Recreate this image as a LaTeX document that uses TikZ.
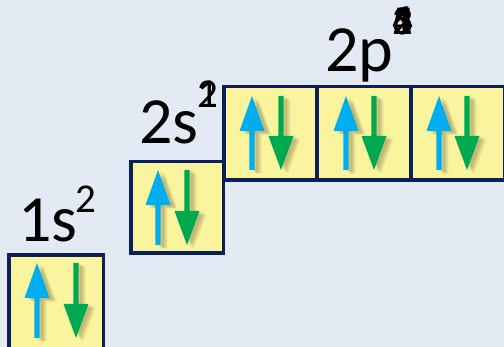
\documentclass[tikz,border=0pt]{standalone}
\usepackage{fontspec}
\setmainfont{Carlito}
\definecolor{bgc}{HTML}{E4EAF4}
\definecolor{boxfill}{HTML}{FBF49E}
\definecolor{boxline}{HTML}{0A1F5C}
\definecolor{upc}{HTML}{00AEEF}
\definecolor{downc}{HTML}{00A84F}
\tikzset{
  orb/.style={draw=boxline, fill=boxfill, line width=3.5pt, inner sep=0pt},
  lbl/.style={anchor=base west, inner sep=0pt, font=\fontsize{66}{66}\selectfont},
  sup/.style={anchor=base west, inner sep=0pt, font=\fontsize{41}{41}\selectfont},
}
% up arrow: #1 x, #2 tip y, #3 tail y
\newcommand\uparr[4]{%
  \fill[#4] (#1-2.6,#3) -- (#1-2.6,#2+35) -- (#1-12.5,#2+35) -- (#1,#2) -- (#1+12.5,#2+35) -- (#1+2.6,#2+35) -- (#1+2.6,#3) -- cycle;}
% down arrow: #1 x, #2 top y, #3 tip y
\newcommand\downarr[4]{%
  \fill[#4] (#1-2.6,#2) -- (#1-2.6,#3-34) -- (#1-12.5,#3-34) -- (#1,#3) -- (#1+12.5,#3-34) -- (#1+2.6,#3-34) -- (#1+2.6,#2) -- cycle;}
\newcommand\spinpair[4]{% up x, down x, top y, bottom y
  \foreach \dx/\dy in {3/1,4/2,5/3,6/3,7/4}{%
    \uparr{#1+\dx}{#3+\dy}{#4+\dy}{black,opacity=0.05}
    \downarr{#2+\dx}{#3+\dy}{#4+\dy}{black,opacity=0.05}}
  \uparr{#1}{#3}{#4}{upc}
  \downarr{#2}{#3}{#4}{downc}}
\begin{document}
\begin{tikzpicture}[x=1pt,y=-1pt]
\useasboundingbox (0,0) rectangle (504,347);
\clip (0,0) rectangle (504,347);
\fill[bgc] (0,0) rectangle (504,347);
% boxes
\node[orb, minimum width=94.5pt, minimum height=105.25pt] (b1s) at (56,307.4) {};
\node[orb, minimum width=92.5pt, minimum height=91.5pt] (b2s) at (177,207.5) {};
\node[orb, minimum width=93.25pt, minimum height=93.5pt] (p1) at (270.4,133.5) {};
\node[orb, minimum width=94pt, minimum height=93.5pt] (p2) at (364,133.5) {};
\node[orb, minimum width=94pt, minimum height=93.5pt] (p3) at (458,133.5) {};
% arrows
\spinpair{37}{76}{263}{338}
\spinpair{158}{187}{170}{245}
\spinpair{252}{281}{96}{170}
\spinpair{346}{374}{96}{170}
\spinpair{439}{467}{96}{170}
% labels
\node[lbl] (t1s) at (18,242) {1s};
\node[sup] (s1s) at (75,213) {2};
\node[lbl] (t2s) at (139,144) {2s};
\node[sup] (s2sa) at (197,108) {1};
\node[sup] (s2sb) at (197,108) {2};
\node[lbl] (t2p) at (325,72) {2p};
\foreach \d in {1,...,6}{\node[sup] (s2p\d) at (392,35) {\d};}
\end{tikzpicture}
\end{document}
